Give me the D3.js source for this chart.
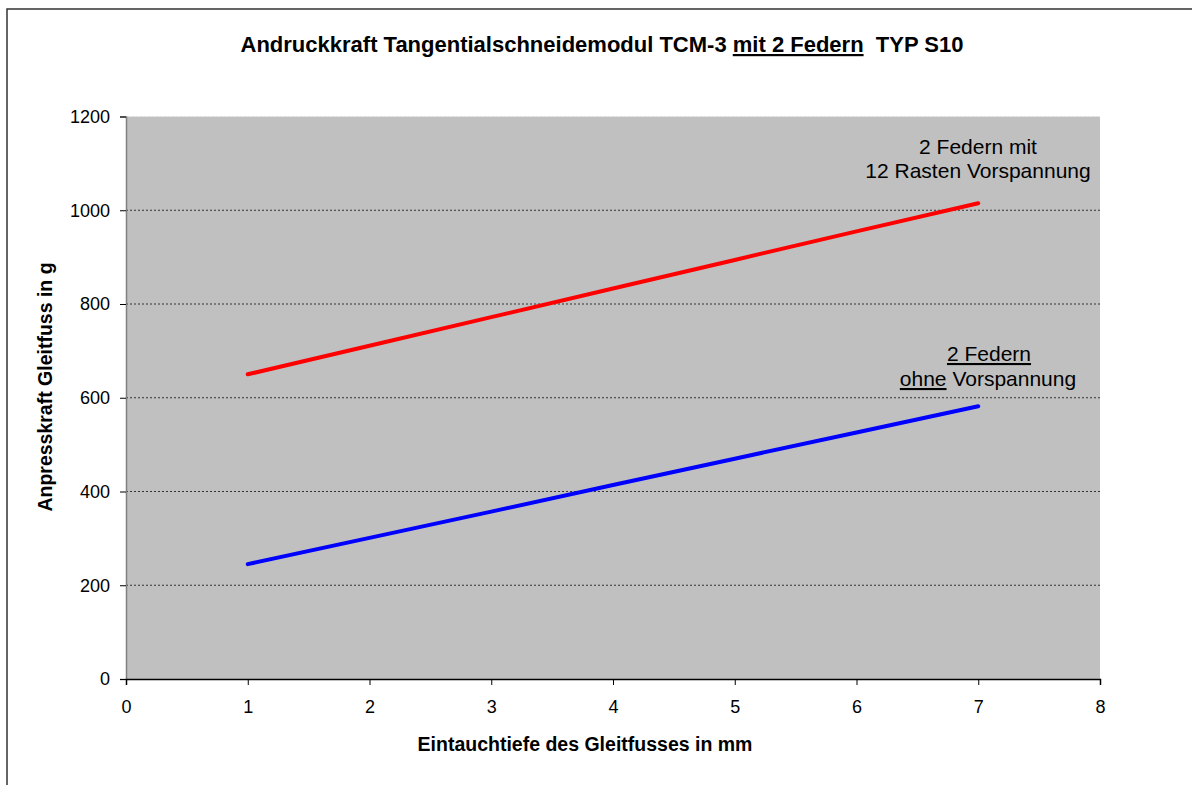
<!DOCTYPE html>
<html>
<head>
<meta charset="utf-8">
<script src="https://cdn.jsdelivr.net/npm/d3@7"></script>
<style>
  html, body { margin: 0; padding: 0; background: #fff; }
  svg { display: block; font-family: "Liberation Sans", Arial, sans-serif; }
</style>
</head>
<body>
<svg id="chart" width="1192" height="785"></svg>
<script>
const depth = [1, 2, 3, 4, 5, 6, 7];
const withPreload = [650, 711, 772, 833, 894, 955, 1015];
const withoutPreload = [245, 301, 357, 414, 470, 526, 582];
const xTicks = [0, 1, 2, 3, 4, 5, 6, 7, 8];
const yTicks = [0, 200, 400, 600, 800, 1000, 1200];

const svg = d3.select("#chart");
const L = 126, R = 1100, T = 116.5, B = 679;
const x = d3.scaleLinear().domain([0, 8]).range([L, R]);
const y = d3.scaleLinear().domain([0, 1200]).range([B, T]);
const FONT = "Liberation Sans, Arial, sans-serif";

// outer frame
svg.append("rect").attr("x", 7).attr("y", 9).attr("width", 1300).attr("height", 900)
  .attr("fill", "none").attr("stroke", "#333").attr("stroke-width", 1.5);

// plot area
svg.append("rect").attr("x", L).attr("y", T).attr("width", R - L).attr("height", B - T)
  .attr("fill", "#C0C0C0");

// grid lines
yTicks.filter(d => d > 0).forEach(d => {
  svg.append("line").attr("x1", L).attr("x2", R).attr("y1", y(d)).attr("y2", y(d))
    .attr("stroke", d === 1200 ? "#e6e6e6" : "#333")
    .attr("stroke-width", 1)
    .attr("stroke-dasharray", "2,2");
});

// y axis
const yAxis = svg.append("g").attr("transform", `translate(${L},0)`)
  .call(d3.axisLeft(y).tickValues(yTicks).tickFormat(d3.format("d")).tickSize(6).tickPadding(10));
yAxis.select(".domain").attr("stroke", "#808080").attr("stroke-width", 1.5);
yAxis.selectAll(".tick line").attr("stroke", "#000");
yAxis.attr("font-size", 18).attr("font-family", FONT);
yAxis.selectAll("text").attr("fill", "#000");

// x axis
const xAxis = svg.append("g").attr("transform", `translate(0,${B})`)
  .call(d3.axisBottom(x).tickValues(xTicks).tickFormat(d3.format("d")).tickSize(6).tickPadding(15));
xAxis.select(".domain").attr("stroke", "#000").attr("stroke-width", 1.5);
xAxis.selectAll(".tick line").attr("stroke", "#000");
xAxis.attr("font-size", 18).attr("font-family", FONT);
xAxis.selectAll("text").attr("fill", "#000");

// lines
const line = d3.line().x(d => x(d[0])).y(d => y(d[1]));
svg.append("path").datum(depth.map((d, i) => [d, withPreload[i]]))
  .attr("d", line).attr("fill", "none").attr("stroke", "#FF0000")
  .attr("stroke-width", 4).attr("stroke-linecap", "round");
svg.append("path").datum(depth.map((d, i) => [d, withoutPreload[i]]))
  .attr("d", line).attr("fill", "none").attr("stroke", "#0000FF")
  .attr("stroke-width", 4).attr("stroke-linecap", "round");

// title
const title = svg.append("text").attr("x", 602).attr("y", 52)
  .attr("text-anchor", "middle").attr("font-size", 22).attr("font-weight", "bold");
title.append("tspan").text("Andruckkraft Tangentialschneidemodul TCM-3 ");
title.append("tspan").attr("text-decoration", "underline").text("mit 2 Federn");
title.append("tspan").text("\u00a0\u00a0TYP S10");

// axis titles
svg.append("text").attr("x", 585).attr("y", 751).attr("text-anchor", "middle")
  .attr("font-size", 19.5).attr("font-weight", "bold").text("Eintauchtiefe des Gleitfusses in mm");
svg.append("text").attr("transform", "translate(52,387) rotate(-90)").attr("text-anchor", "middle")
  .attr("font-size", 19.5).attr("font-weight", "bold").text("Anpresskraft Gleitfuss in g");

// annotations
svg.append("text").attr("x", 978).attr("y", 154).attr("text-anchor", "middle")
  .attr("font-size", 21).text("2 Federn mit");
svg.append("text").attr("x", 978).attr("y", 178).attr("text-anchor", "middle")
  .attr("font-size", 21).text("12 Rasten Vorspannung");
svg.append("text").attr("x", 989).attr("y", 361).attr("text-anchor", "middle")
  .attr("font-size", 21).attr("text-decoration", "underline").text("2 Federn");
const a2 = svg.append("text").attr("x", 988).attr("y", 386).attr("text-anchor", "middle")
  .attr("font-size", 21);
a2.append("tspan").attr("text-decoration", "underline").text("ohne");
a2.append("tspan").text(" Vorspannung");
</script>
</body>
</html>
